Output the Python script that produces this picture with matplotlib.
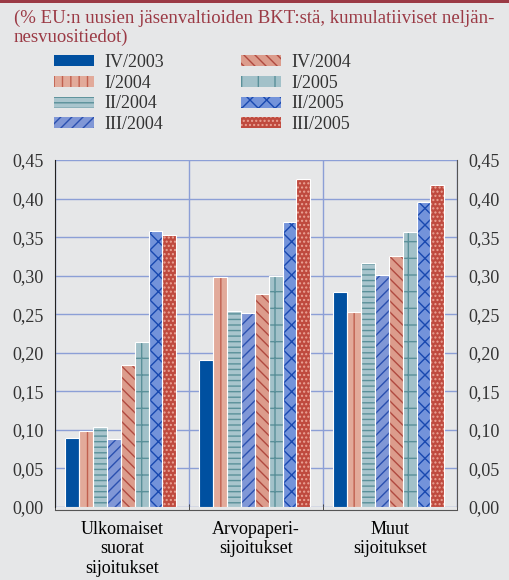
import matplotlib.pyplot as plt
import matplotlib.patches as mpatches
import numpy as np

plt.rcParams['font.family'] = ['Liberation Serif', 'DejaVu Serif']
plt.rcParams['hatch.linewidth'] = 1.0

categories = ['Ulkomaiset\nsuorat\nsijoitukset', 'Arvopaperi-\nsijoitukset', 'Muut\nsijoitukset']
periods = ['IV/2003', 'I/2004', 'II/2004', 'III/2004',
           'IV/2004', 'I/2005', 'II/2005', 'III/2005']
values = {
    'IV/2003':  [0.090, 0.190, 0.279],
    'I/2004':   [0.099, 0.298, 0.253],
    'II/2004':  [0.104, 0.254, 0.317],
    'III/2004': [0.088, 0.252, 0.301],
    'IV/2004':  [0.184, 0.276, 0.326],
    'I/2005':   [0.214, 0.300, 0.357],
    'II/2005':  [0.358, 0.369, 0.396],
    'III/2005': [0.353, 0.425, 0.418],
}
yticks = [0.0, 0.05, 0.10, 0.15, 0.20, 0.25, 0.30, 0.35, 0.40, 0.45]

# face colour, hatch colour, hatch
styles = {
    'IV/2003':  ('#0050a0', '#0050a0', None),
    'I/2004':   ('#e2aa9a', '#c0604f', '||'),
    'II/2004':  ('#a9c5cd', '#5a9099', '---'),
    'III/2004': ('#8097d6', '#2a50b0', '///'),
    'IV/2004':  ('#dc9c8c', '#b04a40', '\\\\\\'),
    'I/2005':   ('#a2c1c9', '#5a9099', '+'),
    'II/2005':  ('#7393da', '#1848b0', 'xx'),
    'III/2005': ('#bf4a3e', '#eaa496', '....'),
}

bg = '#e6e7e8'
grid_c = '#8c9fd6'
title_c = '#9b3a45'
text_c = '#333333'

fig = plt.figure(figsize=(5.09, 5.80), dpi=100, facecolor=bg)
ax = fig.add_axes([55 / 509, 1 - 507 / 580, 402 / 509, 347 / 580])
ax.set_facecolor(bg)

x = np.arange(len(categories))
w = 0.104
n = len(periods)
for i, p in enumerate(periods):
    fc, hc, h = styles[p]
    pos = x + (i - (n - 1) / 2) * w - 0.01
    ax.bar(pos, values[p], w, color=fc, edgecolor=hc, hatch=h, linewidth=0, zorder=3)
    ax.bar(pos, values[p], w, facecolor='none', edgecolor='white', linewidth=0.8, zorder=4)

ax.set_xlim(-0.5, 2.5)
ax.set_ylim(0, 0.45)
ax.set_yticks(yticks)
ax.set_yticklabels([f'{v:.2f}'.replace('.', ',') for v in yticks], color=text_c)
ax.set_xticks(x)
ax.set_xticklabels(categories, color=text_c, linespacing=1.0)
ax.set_xticks([-0.5, 0.5, 1.5, 2.5], minor=True)
ax.tick_params(axis='x', which='major', length=0, pad=8, labelsize=13)
ax.tick_params(axis='x', which='minor', length=4, direction='in', color=text_c)
ax.tick_params(axis='y', length=0, pad=8, labelright=True, right=False, labelsize=13)
ax.yaxis.grid(True, color=grid_c, linewidth=1, zorder=0)
ax.xaxis.grid(True, which='minor', color=grid_c, linewidth=1, zorder=0)
ax.set_axisbelow(True)

ax.spines['top'].set_visible(False)
ax.spines['left'].set_color('#222222')
ax.spines['right'].set_color('#555555')
ax.spines['bottom'].set_color('#555555')
ax.spines['bottom'].set_position(('outward', 2))

# top rule
fig.add_artist(mpatches.Rectangle((0, 1 - 3 / 580), 1, 3 / 580, transform=fig.transFigure,
                                  color='#9b3a45', linewidth=0))

fig.text(14 / 509, 1 - 10 / 580,
         '(% EU:n uusien jäsenvaltioiden BKT:stä, kumulatiiviset neljän-\nnesvuositiedot)',
         fontsize=13.5, color=title_c, va='top', ha='left', linespacing=1.12)

handles = []
for p in periods:
    fc, hc, h = styles[p]
    handles.append(mpatches.Patch(facecolor=fc, edgecolor=hc, hatch=h, linewidth=0))
fig.legend(handles, periods, ncol=2, loc='upper left',
           bbox_to_anchor=(38 / 509, 1 - 38 / 580), frameon=False,
           fontsize=13, handlelength=2.2, handleheight=0.55,
           handletextpad=0.6, labelspacing=0.2, columnspacing=4.25,
           labelcolor=text_c)

fig.savefig('out.png', dpi=100, facecolor=bg)
